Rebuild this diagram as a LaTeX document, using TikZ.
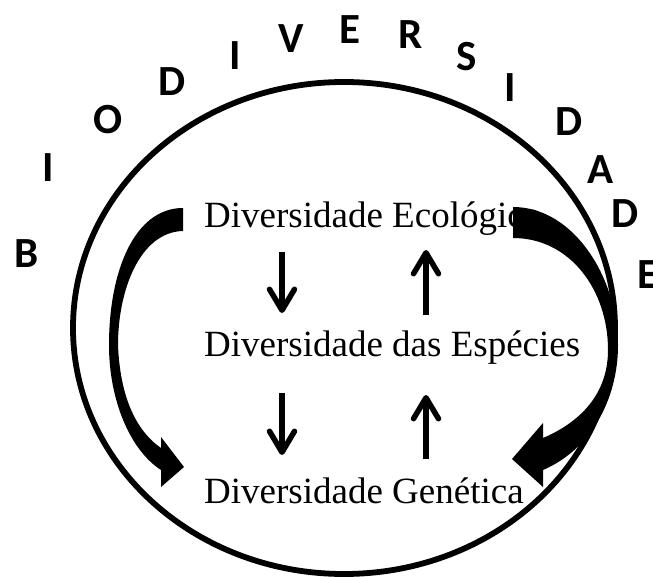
\documentclass[tikz,border=0pt]{standalone}
\usepackage{fontspec}
\setmainfont{Liberation Serif}
\newfontfamily\lettfont{Carlito Bold}
\usetikzlibrary{arrows.meta}
\tikzset{
  ring/.style={draw=black, line width=5.8pt},
  label/.style={font=\fontsize{37}{40}\selectfont, inner sep=0pt, anchor=base west},
  letter/.style={font=\lettfont\fontsize{43}{45}\selectfont, inner sep=0pt, anchor=center},
  smallarrow/.style={line width=5.5pt, -{Straight Barb[length=21pt,width=25pt,round]}},
  bigarrow/.style={fill=black, draw=none}
}
\begin{document}
\begin{tikzpicture}[x=1pt,y=-1pt]
\useasboundingbox (0,0) rectangle (653,577);
% ellipse
\draw[ring] (344,328) ellipse [x radius=271, y radius=246];
% texts
\node[label] (eco) at (204,228) {Diversidade Ecológica};
\node[label] (esp) at (204,356) {Diversidade das Espécies};
\node[label] (gen) at (204,503) {Diversidade Genética};
% small arrows
\coordinate (d1a) at (282,252); \coordinate (d1b) at (282,313);
\coordinate (d2a) at (282,393); \coordinate (d2b) at (282,455);
\coordinate (u1a) at (426,315); \coordinate (u1b) at (426,250);
\coordinate (u2a) at (426,459); \coordinate (u2b) at (426,395);
\draw[smallarrow] (d1a) -- (d1b);
\draw[smallarrow] (d2a) -- (d2b);
\draw[smallarrow] (u1a) -- (u1b);
\draw[smallarrow] (u2a) -- (u2b);
% big left arrow
\path[bigarrow] (183,208) -- (183,231) .. controls (140,232) and (118,290) .. (118,345)
  .. controls (120,395) and (135,430) .. (161,448) -- (161,437) -- (184,467) -- (161,487) -- (161,470)
  .. controls (130,450) and (109,400) .. (109,345) .. controls (109,270) and (135,208) .. (183,208) -- cycle;
% big right arrow
\path[bigarrow] (513,207) .. controls (575,207) and (618,280) .. (618,345)
  .. controls (618,400) and (590,450) .. (543,470) -- (543,487) -- (512,459) -- (543,423) -- (543,438)
  .. controls (585,420) and (608,390) .. (608,350) .. controls (608,290) and (570,238) .. (513,238) -- cycle;
% letters
\node[letter] (l1) at (27,254) {B};
\node[letter] (l2) at (48,168) {I};
\node[letter] (l3) at (108,120) {O};
\node[letter] (l4) at (172,82) {D};
\node[letter] (l5) at (235,56) {I};
\node[letter] (l6) at (291,39) {V};
\node[letter] (l7) at (350,30) {E};
\node[letter] (l8) at (411,35) {R};
\node[letter] (l9) at (467,57) {S};
\node[letter] (l10) at (510,88) {I};
\node[letter] (l11) at (569,122) {D};
\node[letter] (l12) at (601,170) {A};
\node[letter] (l13) at (625,214) {D};
\node[letter] (l14) at (648,275) {E};
\end{tikzpicture}
\end{document}
